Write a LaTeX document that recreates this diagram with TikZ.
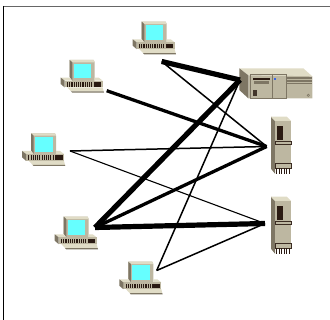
\documentclass[tikz,border=0pt]{standalone}
\definecolor{caselight}{HTML}{E0DCC6}
\definecolor{casemid}{HTML}{BDB7A1}
\definecolor{casedark}{HTML}{7E7664}
\definecolor{screencol}{HTML}{66FFFF}
\definecolor{slotcol}{HTML}{2A1A12}
\definecolor{bluelamp}{HTML}{3A66E8}
\tikzset{
  desktop/.pic = {
    % monitor
    \fill[casemid] (9,0) -- (33,0) -- (34,2.4) -- (34,21) -- (11.6,21) -- (9,17) -- cycle;
    \fill[caselight] (9,0) -- (33,0) -- (34,2.4) -- (11.6,2.4) -- cycle;
    \fill[casedark] (9,0) -- (11.6,2.4) -- (11.6,21) -- (9,17) -- cycle;
    \fill[screencol] (13,3.6) rectangle (30.6,18.3);
    % base
    \fill[caselight] (0,17.6) -- (9,17.6) -- (11.6,20.7) -- (34,20.7) -- (34,17.6) -- (38,17.6) -- (42,20.7) -- (4,20.7) -- cycle;
    \fill[casemid] (4,20.7) rectangle (42,27.5);
    \fill[casedark] (0,17.6) -- (4,20.7) -- (4,27.5) -- (0,24) -- cycle;
    \foreach \i in {0,...,11}
      \fill[slotcol] (6.3+2.2*\i,22.2) rectangle (7.4+2.2*\i,26.6);
    \fill[slotcol] (33,22.2) rectangle (40.5,26.6);
    % keyboard
    \fill[caselight] (6.7,27.5) -- (42,27.5) -- (43,31.5) -- (10.5,31.5) -- cycle;
    \fill[casedark] (10.5,31.5) -- (43,31.5) -- (43.3,32.7) -- (11.5,32.7) -- cycle;
  },
  switchbox/.pic = {
    \fill[caselight] (0,0) -- (64,0) -- (73,8) -- (9,7) -- cycle;
    \fill[casemid] (9,7) -- (73,8) -- (73,30) -- (9,30) -- cycle;
    \fill[casedark] (0,0) -- (9,7) -- (9,30) -- (0,21.7) -- cycle;
    % front panel
    \draw[casedark, line width=.6pt] (11,5.7) rectangle (47,30);
    \draw[casedark, line width=.6pt] (33,5.7) -- (33,30);
    \fill[slotcol] (14,9.5) rectangle (31,12);
    \fill[casedark] (15,13) rectangle (30,15.5);
    \fill[bluelamp] (34.5,9.5) rectangle (37,12);
    \fill[slotcol!70!casedark] (14,22) rectangle (18,28);
    \foreach \i in {9,12,14.5}
      \fill[casedark] (47,\i) rectangle (73,\i+1.4);
    \draw[casedark, line width=.5pt] (69,27) circle (1.2);
  },
  towerbox/.pic = {
    \fill[casedark] (0,0) -- (4,4.3) -- (4,57) -- (0,52) -- cycle;
    \fill[caselight] (0,0) -- (15.7,0) -- (20,4.3) -- (4,4.3) -- cycle;
    \fill[casemid] (4,4.3) rectangle (20,51.7);
    \fill[slotcol] (5.7,9.3) rectangle (12.3,23.3);
    \draw[slotcol!80!casedark, line width=.7pt] (4,25) rectangle (20,27.7);
    \draw[slotcol!80!casedark, line width=.7pt] (4,46.7) rectangle (20,51.7);
    \foreach \i in {0,...,5}
      \fill[slotcol] (5+2.6*\i,51.7) rectangle (6+2.6*\i,57);
  }
}
\begin{document}
\begin{tikzpicture}[x=1pt, y=-1pt, thinlink/.style = {line width=1.5pt}, midlink/.style = {line width=3.3pt}, fatlink/.style = {line width=5.2pt}]
    \useasboundingbox (0,0) rectangle (330,320);
    % cornice
    \draw[black!60, line width=1.3pt] (3,6.5) -- (330,6.5);
    \draw[line width=1.2pt] (3.5,6) -- (3.5,320);

    % icone
    \pic at (132.7,21.7) {desktop};
    \pic at (60.7,60) {desktop};
    \pic at (22,133.3) {desktop};
    \pic at (54.7,216.7) {desktop};
    \pic at (119.3,261.7) {desktop};
    \pic at (239.3,68.3) {switchbox};
    \pic at (271,116.7) {towerbox};
    \pic at (271,196.7) {towerbox};

    % estremi dei collegamenti
    \coordinate (pc1) at (161.7,61.5);
    \coordinate (pc2) at (106.7,90.7);
    \coordinate (pc3) at (70,151);
    \coordinate (pc4) at (95,227.5);
    \coordinate (pc5) at (156.7,270.5);
    \coordinate (sw) at (240,80);
    \coordinate (srv1) at (266.7,146.5);
    \coordinate (srv2) at (265,223.5);

    \draw[fatlink] (pc1) to (sw);
    \draw[fatlink] (pc4) to (sw);
    \draw[fatlink] (pc4) to (srv2);

    \draw[midlink] (pc2) to (srv1);
    \draw[midlink] (pc4) to (srv1);

    \draw[thinlink] (pc1) to (srv1);
    \draw[thinlink] (pc3) to (srv1);
    \draw[line width=1.1pt] (pc3) to (srv2);
    \draw[thinlink] (pc5) to (sw);
    \draw[thinlink] (pc5) to (srv2);

\end{tikzpicture}
\end{document}
